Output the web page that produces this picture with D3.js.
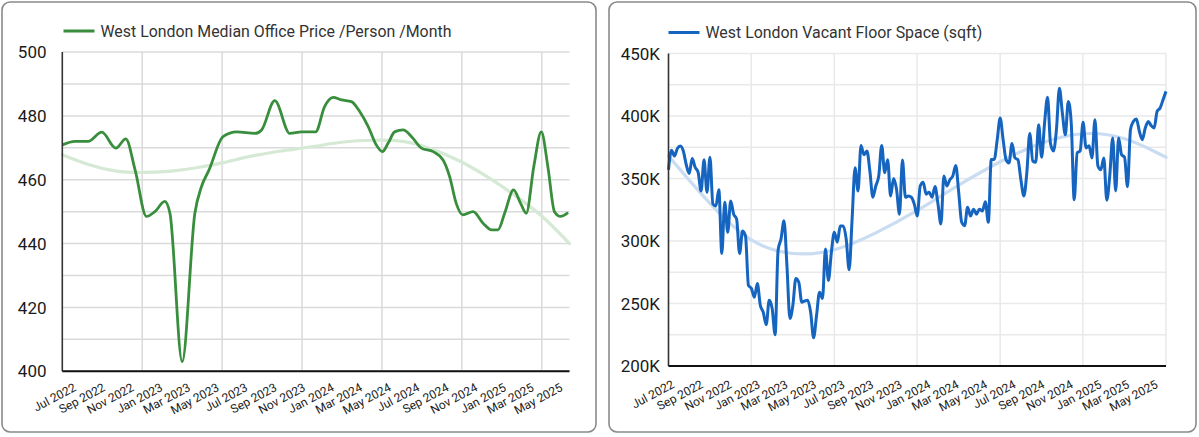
<!DOCTYPE html>
<html lang="en">
<head>
<meta charset="utf-8">
<title>West London office charts</title>
<script src="https://cdn.jsdelivr.net/npm/d3@7"></script>
<style>
  body { margin: 0; background: #fff; }
  svg { display: block; }
  text { font-family: Roboto, "Liberation Sans", sans-serif; }
</style>
</head>
<body>
<script>
// x axis tick labels (shared by both charts)
var monthLabels = ["Jul 2022", "Sep 2022", "Nov 2022", "Jan 2023", "Mar 2023", "May 2023",
                   "Jul 2023", "Sep 2023", "Nov 2023", "Jan 2024", "Mar 2024", "May 2024",
                   "Jul 2024", "Sep 2024", "Nov 2024", "Jan 2025", "Mar 2025", "May 2025"];

// left chart: median office price per person per month
var priceTicks = [400, 420, 440, 460, 480, 500];
var priceDates = ["2022-06-02", "2022-06-29", "2022-07-27", "2022-08-25", "2022-09-24", "2022-10-15",
                  "2022-11-04", "2022-11-28", "2022-12-16", "2023-01-06", "2023-01-17", "2023-02-12",
                  "2023-03-11", "2023-03-25", "2023-04-10", "2023-05-10", "2023-06-08", "2023-07-17",
                  "2023-07-31", "2023-08-28", "2023-09-29", "2023-10-24", "2023-11-23", "2023-12-12",
                  "2023-12-30", "2024-01-17", "2024-02-07", "2024-02-25", "2024-03-14", "2024-03-31",
                  "2024-04-13", "2024-04-25", "2024-05-09", "2024-05-27", "2024-06-14", "2024-07-05",
                  "2024-07-30", "2024-08-20", "2024-09-03", "2024-09-17", "2024-10-01", "2024-10-23",
                  "2024-11-13", "2024-12-01", "2024-12-15", "2024-12-29", "2025-01-17", "2025-02-01",
                  "2025-02-13", "2025-03-01", "2025-03-17", "2025-03-31", "2025-04-14", "2025-04-27",
                  "2025-05-13"];
var priceValues = [470.9, 472, 472, 474.9, 469.9, 472.8,
                   463, 448.5, 450, 453.2, 449.5, 403,
                   449.5, 457.8, 463, 473.5, 475, 474.5,
                   475.6, 484.8, 474.5, 475, 475, 482.9,
                   485.8, 485, 484.5, 481.3, 476.6, 470.9,
                   468.8, 471.4, 475, 475.6, 473.5, 469.9,
                   468.8, 466.2, 461, 452.6, 449, 450,
                   446.4, 444.3, 444.3, 449.5, 456.8, 452.6,
                   449.5, 464.1, 475, 464.1, 450, 448.5,
                   449.7];
var priceTrendDates = ["2022-06-02", "2022-07-27", "2022-09-22", "2022-11-19", "2023-01-13", "2023-03-11",
                       "2023-05-09", "2023-07-17", "2023-09-25", "2023-11-21", "2024-01-20", "2024-03-31",
                       "2024-05-27", "2024-07-16", "2024-09-24", "2024-12-04", "2025-02-13", "2025-03-21",
                       "2025-05-16"];
var priceTrendValues = [467.8, 464.6, 462.5, 462.2, 462.5, 463.6,
                        465.2, 467.8, 469.3, 470.4, 472, 472.5,
                        472.3, 470.4, 466.2, 460, 452.6, 448.5,
                        440];
var priceGridDates = ["2022-11-19", "2023-05-08", "2023-10-25", "2024-04-12", "2024-09-29", "2025-03-18"];

// right chart: vacant floor space, thousands of sqft, roughly weekly
var spaceTicks = [200, 250, 300, 350, 400, 450];
var spaceValues = [357, 372.7, 368, 374, 376, 372, 361, 354, 366, 359, 355, 340, 365, 339, 367, 329.5,
                   328, 341, 290, 331, 307, 332, 321.5, 317.5, 290, 308, 304, 264.5, 262, 255, 266, 248.6,
                   243, 233, 252.6, 246, 225, 292.4, 301.7, 316.2, 280, 238, 248.6, 270, 267, 251,
                   252, 252.6, 243, 222.6, 240.6, 259, 254, 293.7,
                   268.5, 291, 307, 299, 312, 312, 301.7, 277, 317.5, 358.7, 340, 376.5, 369, 372, 356, 335,
                   344, 352, 376.5, 354.7, 365, 336, 350, 341.4, 321.5, 364.8, 335, 336, 335, 329.5, 320, 344,
                   347, 337.5, 339, 335, 343.6, 329.5, 313.6, 352, 344, 349, 352, 360.5, 338.8, 315, 312.3, 327,
                   320, 325.5, 321.5, 325.5, 324, 331.4, 315, 365.3, 365.3, 381, 398.5, 381,
                   365, 362.5, 378, 366.5, 365, 349, 336, 354.5, 386, 364, 363, 393, 367, 394.5, 415, 378,
                   372, 389, 422.3, 402.4, 385, 411.7, 394.4, 333, 370.5, 372, 395, 374.5, 376.3, 366.5, 397, 360,
                   357, 366.5, 332.7, 352, 382.4, 340, 382.4, 369, 367, 343.4, 389, 395.7, 397.6, 387.8, 381, 390.4,
                   395.7, 392.3, 390.4, 403.7, 406.4, 413, 419.7];
var spaceStart = "2022-06-19";
var spaceEnd = "2025-05-19";
var spaceTrendValues = [368, 329, 297, 288, 291, 306, 324, 345, 364, 379.5, 387.8, 384, 367];
var spaceGridDates = ["2022-12-13", "2023-06-09", "2023-12-03", "2024-05-29", "2024-11-22", "2025-05-19"];

var parseDate = d3.timeParse("%Y-%m-%d");
var parseMonth = d3.timeParse("%b %Y");

var svg = d3.select("body").append("svg")
            .attr("width", 1199)
            .attr("height", 437);

// spread n points evenly between two dates
function evenDates(start, end, n) {
    var t0 = parseDate(start).getTime(), t1 = parseDate(end).getTime();
    return d3.range(n).map(function(i) { return new Date(t0 + (t1 - t0) * i / (n - 1)); });
}

function drawPanel(p) {
    var g = svg.append("g");

    g.append("rect")
        .attr("x", p.box[0]).attr("y", p.box[1])
        .attr("width", p.box[2]).attr("height", p.box[3])
        .attr("rx", 8)
        .attr("fill", "#fff")
        .attr("stroke", "#8a8a8a")
        .attr("stroke-width", 1.6);

    var x = d3.scaleTime().domain(p.xDomain).range([p.left, p.right]);
    var y = d3.scaleLinear().domain([p.ticks[0], p.ticks[p.ticks.length - 1]]).range([p.bottom, p.top]);

    // gridlines
    g.selectAll(".hgrid")
        .data(d3.range(p.ticks[0], p.ticks[p.ticks.length - 1] + 0.001, p.gridStep))
        .enter().append("line")
        .attr("x1", p.left).attr("x2", p.right)
        .attr("y1", function(d) { return y(d); })
        .attr("y2", function(d) { return y(d); })
        .attr("stroke", p.gridColor).attr("stroke-width", 1.5);

    g.selectAll(".vgrid")
        .data(p.gridDates.map(parseDate))
        .enter().append("line")
        .attr("x1", function(d) { return x(d); })
        .attr("x2", function(d) { return x(d); })
        .attr("y1", p.top).attr("y2", p.bottom)
        .attr("stroke", p.gridColor).attr("stroke-width", 1.5);

    // trend line
    g.append("path")
        .datum(p.trend)
        .attr("fill", "none")
        .attr("stroke", p.trendColor)
        .attr("stroke-width", 3.2)
        .attr("stroke-linecap", "round")
        .attr("d", d3.line()
            .x(function(d) { return x(d[0]); })
            .y(function(d) { return y(d[1]); })
            .curve(d3.curveBasis));

    // series
    g.append("path")
        .datum(p.series)
        .attr("fill", "none")
        .attr("stroke", p.color)
        .attr("stroke-width", p.lineWidth)
        .attr("stroke-linejoin", "round")
        .attr("d", d3.line()
            .x(function(d) { return x(d[0]); })
            .y(function(d) { return y(d[1]); })
            .curve(d3.curveMonotoneX));

    // axis lines
    g.append("line")
        .attr("x1", p.left).attr("x2", p.left)
        .attr("y1", p.top).attr("y2", p.bottom)
        .attr("stroke", "#333").attr("stroke-width", 1.6);
    g.append("line")
        .attr("x1", p.left).attr("x2", p.right)
        .attr("y1", p.bottom).attr("y2", p.bottom)
        .attr("stroke", "#111").attr("stroke-width", 2);

    // y labels
    g.selectAll(".ylab")
        .data(p.ticks)
        .enter().append("text")
        .text(p.yFormat)
        .attr("x", p.yLabelX)
        .attr("y", function(d) { return y(d); })
        .attr("dy", "0.36em")
        .attr("text-anchor", "end")
        .attr("font-size", "17px")
        .attr("fill", "#1a1a1a");

    // x labels
    g.selectAll(".xlab")
        .data(monthLabels)
        .enter().append("text")
        .text(function(d) { return d; })
        .attr("text-anchor", "end")
        .attr("font-size", "12px")
        .attr("fill", "#222")
        .attr("transform", function(d) {
            return "translate(" + (x(parseMonth(d)) + 1) + "," + (p.bottom + p.xLabelDy) + ") rotate(-28)";
        });

    // legend
    g.append("line")
        .attr("x1", p.legendX).attr("x2", p.legendX + 31)
        .attr("y1", p.legendY).attr("y2", p.legendY)
        .attr("stroke", p.color).attr("stroke-width", 3);
    g.append("text")
        .text(p.title)
        .attr("x", p.legendX + 37)
        .attr("y", p.legendY + 5.5)
        .attr("font-size", "15.9px")
        .attr("fill", "#333");
}

drawPanel({
    box: [2, 2, 594, 430],
    left: 62.3, right: 569.5, top: 52.1, bottom: 371.2,
    xDomain: [parseDate("2022-06-02"), parseDate("2025-05-16")],
    ticks: priceTicks, gridStep: 10,
    gridDates: priceGridDates, gridColor: "#dadada",
    series: priceDates.map(function(d, i) { return [parseDate(d), priceValues[i]]; }),
    trend: priceTrendDates.map(function(d, i) { return [parseDate(d), priceTrendValues[i]]; }),
    color: "#388e3c", trendColor: "#d5e9d5", lineWidth: 2.8,
    yFormat: function(d) { return d; }, yLabelX: 46.5, xLabelDy: 19,
    legendX: 63.5, legendY: 31,
    title: "West London Median Office Price /Person /Month"
});

var spaceDates = evenDates(spaceStart, spaceEnd, spaceValues.length);
var spaceTrendDates = evenDates(spaceStart, spaceEnd, spaceTrendValues.length);

drawPanel({
    box: [609, 2, 587, 430],
    left: 668.5, right: 1166, top: 53.5, bottom: 366,
    xDomain: [parseDate(spaceStart), parseDate(spaceEnd)],
    ticks: spaceTicks, gridStep: 25,
    gridDates: spaceGridDates, gridColor: "#e9e9e9",
    series: spaceDates.map(function(d, i) { return [d, spaceValues[i]]; }),
    trend: spaceTrendDates.map(function(d, i) { return [d, spaceTrendValues[i]]; }),
    color: "#1565c0", trendColor: "#c9dcf2", lineWidth: 3,
    yFormat: function(d) { return d + "K"; }, yLabelX: 660, xLabelDy: 21,
    legendX: 668.5, legendY: 32.5,
    title: "West London Vacant Floor Space (sqft)"
});
</script>
</body>
</html>
